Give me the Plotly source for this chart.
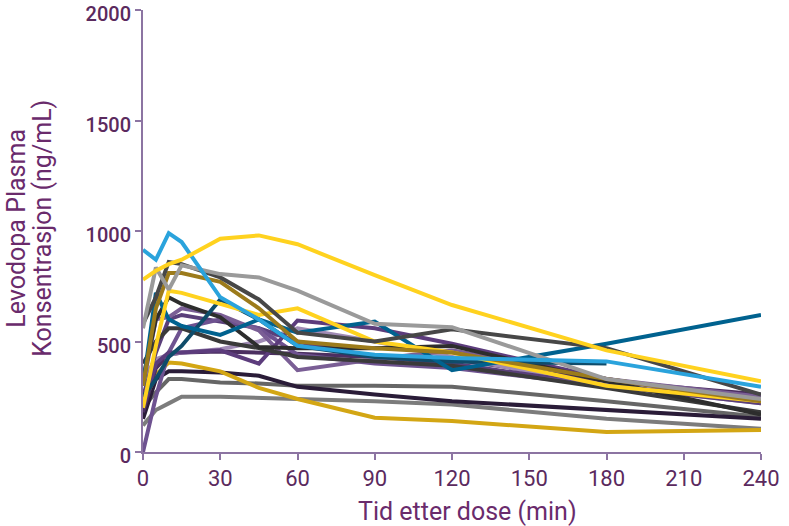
import plotly.graph_objects as go

times = [0, 5, 10, 15, 30, 45, 60, 90, 120, 180, 240]

# individual patient profiles (ng/mL)
p_grey_low   = [120, 190, 220, 250, 250, 245, 240, 230, 215, 150, 105]
p_grey_mid   = [200, 270, 330, 330, 315, 310, 300, 300, 295, 230, 160]
p_navy       = [150, 330, 365, 365, 360, 345, 295, 260, 230, 190, 150]
p_gold       = [220, 350, 405, 400, 365, 290, 240, 155, 140, 90, 100]
p_purple_flat = [180, 380, 440, 450, 455, 450, 445, 430, 420, 320, 260]
p_lavender   = [330, 420, 440, 450, 465, 500, 560, 500, 430, 300, 220]
p_purple_a   = [250, 450, 600, 620, 590, 560, 500, 430, 400, 300, 220]
p_purple_b   = [0, 250, 450, 560, 600, 560, 440, 400, 380, 300, 240]
p_purple_dip = [300, 600, 610, 650, 620, 550, 370, 420, 460, 330, 250]
p_purple_zig = [200, 400, 450, 450, 460, 400, 595, 560, 490, 330, 230]
p_dgrey_b    = [400, 500, 560, 560, 500, 470, 430, 410, 390, 290, 180]
p_black      = [330, 600, 700, 670, 610, 475, 470, 470, 480, 320, 170]
p_dteal      = [250, 330, 430, 480, 690, 600, 480, 430, 410, 400, None]
p_teal       = [300, 720, 600, 570, 530, 600, 540, 590, 370, 490, 620]
p_yellow_b   = [200, 480, 730, 720, 670, 620, 650, 500, 450, 300, 230]
p_olive      = [300, 650, 810, 810, 770, 650, 500, 470, 450, 330, 230]
p_dgrey      = [580, 700, 860, 850, 790, 690, 540, 500, 555, 470, 260]
p_grey_light = [560, 835, 735, 845, 805, 790, 730, 580, 565, 330, 240]
p_blue       = [915, 870, 990, 950, 700, 600, 480, 440, 425, 410, 295]
p_yellow_a   = [780, 820, 850, 870, 965, 980, 940, 800, 665, 460, 320]

x_ticks = [0, 30, 60, 90, 120, 150, 180, 210, 240]
y_ticks = [0, 500, 1000, 1500, 2000]

series = [
    (p_grey_low, "#7c7c7c"),
    (p_grey_mid, "#666666"),
    (p_navy, "#2a1c38"),
    (p_gold, "#d3a614"),
    (p_purple_flat, "#4b2f60"),
    (p_lavender, "#a08bb5"),
    (p_purple_a, "#5a3f7a"),
    (p_purple_b, "#6e5290"),
    (p_purple_dip, "#7a5e95"),
    (p_purple_zig, "#5c3c7c"),
    (p_dgrey_b, "#3a3a3a"),
    (p_black, "#2d2d2d"),
    (p_dteal, "#0f4c6a"),
    (p_teal, "#00628f"),
    (p_yellow_b, "#ffd21f"),
    (p_olive, "#9c7b1b"),
    (p_dgrey, "#474747"),
    (p_grey_light, "#9a9a9a"),
    (p_blue, "#2aa3dc"),
    (p_yellow_a, "#ffd21f"),
]

fig = go.Figure()
for vals, col in series:
    fig.add_trace(go.Scatter(x=times, y=vals, mode="lines",
                             line=dict(color=col, width=4),
                             showlegend=False, hoverinfo="skip"))

axis_col = "#8c74a2"
tick_col = "#5b2a5e"
title_col = "#6a2b6c"
font_fam = "Roboto, Arial, sans-serif"

L, R, T, B = 143, 28, 10, 74
plot_w = 789 - L - R
plot_h = 526 - T - B

fig.update_layout(
    width=789, height=526,
    margin=dict(l=L, r=R, t=T, b=B, autoexpand=False),
    paper_bgcolor="white", plot_bgcolor="white",
    font=dict(family=font_fam, color=tick_col),
    xaxis=dict(range=[0, 240], tickvals=x_ticks, ticktext=[str(v) for v in x_ticks],
               showgrid=False, zeroline=False, showline=True, linecolor=axis_col, linewidth=2,
               ticks="outside", ticklen=6, tickwidth=2, tickcolor=axis_col, automargin=False,
               ticklabeloverflow="allow",
               tickfont=dict(size=22, color=tick_col)),
    yaxis=dict(range=[0, 2000], tickvals=y_ticks, ticktext=[str(v) for v in y_ticks],
               showgrid=False, zeroline=False, showline=True, linecolor=axis_col, linewidth=2,
               ticks="outside", ticklen=6, tickwidth=2, tickcolor=axis_col, automargin=False,
               ticklabeloverflow="allow", ticklabelshift=4,
               tickfont=dict(size=20, color=tick_col, weight=500)),
)

# x-axis title
fig.add_annotation(text="Tid etter dose (min)", xref="paper", yref="paper",
                   x=(467 - L) / plot_w, y=-(511 - (T + plot_h)) / plot_h,
                   xanchor="center", yanchor="middle", showarrow=False,
                   font=dict(size=25, color=title_col, family=font_fam))

# y-axis title (two lines)
y_title_lines = ["Levodopa Plasma", "Konsentrasjon (ng/mL)"]
for px, txt in zip([17, 43], y_title_lines):
    fig.add_annotation(text=txt, xref="paper", yref="paper",
                       x=(px - L) / plot_w, y=0.505, xanchor="center", yanchor="middle",
                       textangle=-90, showarrow=False,
                       font=dict(size=25, color=title_col, family=font_fam))

fig.write_html("out.html")
